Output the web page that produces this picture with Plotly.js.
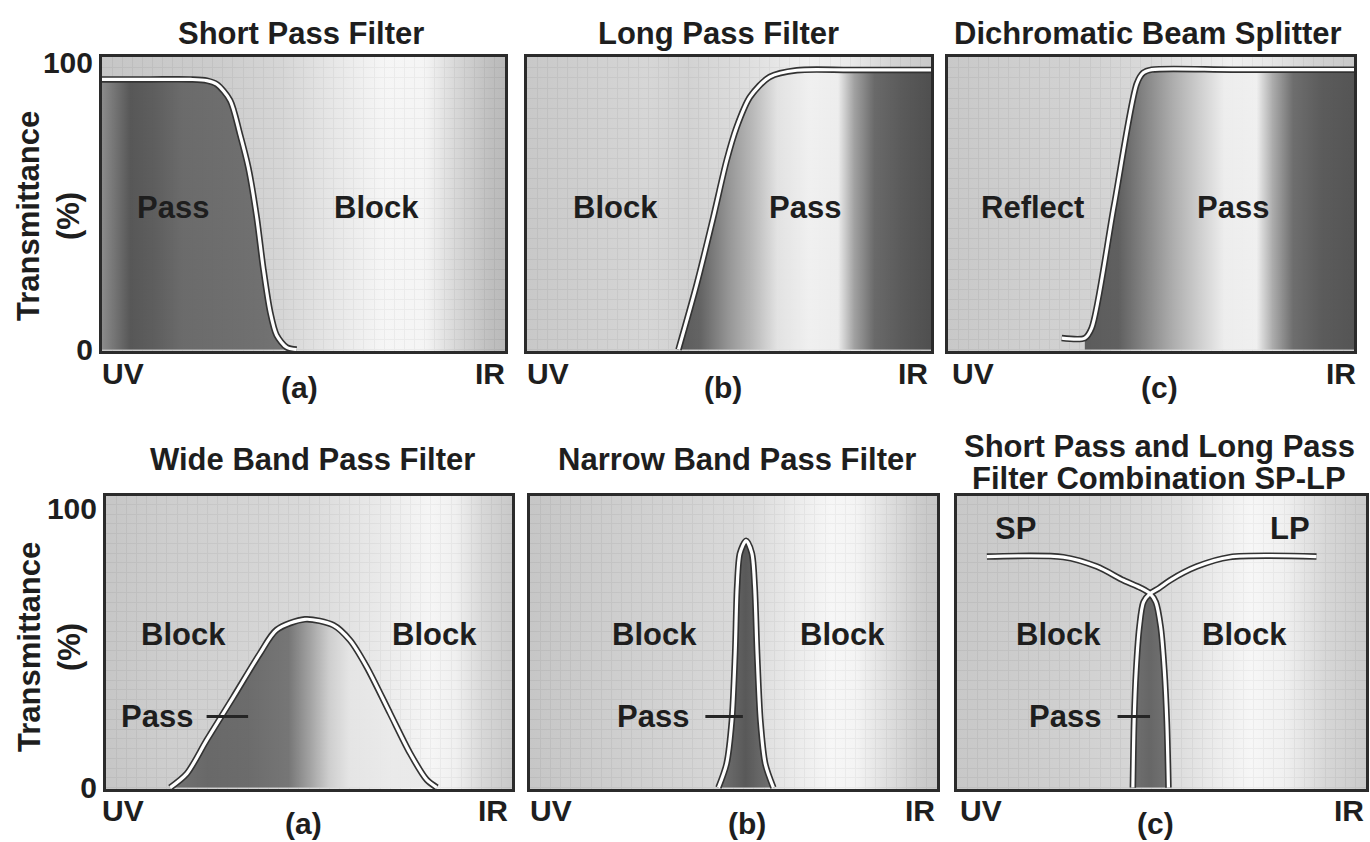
<!DOCTYPE html>
<html>
<head>
<meta charset="utf-8">
<script src="https://cdn.plot.ly/plotly-3.0.1.min.js"></script>
<style>
html,body{margin:0;padding:0;background:#ffffff;}
#chart{width:1370px;height:842px;}
</style>
</head>
<body>
<div id="chart"></div>
<script>
// ================= DATA =================
const panelTitles = [
  'Short Pass Filter', 'Long Pass Filter', 'Dichromatic Beam Splitter',
  'Wide Band Pass Filter', 'Narrow Band Pass Filter',
  'Short Pass and Long Pass<br>Filter Combination SP-LP'
];
const panelLetters = ['(a)', '(b)', '(c)', '(a)', '(b)', '(c)'];
const xStartLabel = 'UV';
const xEndLabel = 'IR';
const yTitleText = 'Transmittance<br>(%)';
const yTickVals = [0, 100];
const yTickText = ['0', '100'];

// transmittance curves (x: 0 = UV ... 100 = IR, y: % transmittance)
const shortPassX = [0, 12, 22, 26, 28.5, 31.8, 34.2, 36.3, 38.4, 40.0, 41.7, 43.3, 45.8, 48.3];
const shortPassY = [94, 94, 94, 93.6, 92.3, 86.7, 75.1, 63.4, 45.9, 28.4, 13.3, 5.1, 0.8, 0];

const longPassX = [37.5, 42.0, 46.1, 49.4, 51.9, 55.2, 60.1, 66.8, 80, 100];
const longPassY = [0, 22.6, 45.9, 65.7, 77.4, 87.9, 94.9, 97.2, 97.3, 97.3];

const dichroicX = [28.0, 33.7, 35.4, 40.9, 46.5, 48.1, 50.2, 70, 100];
const dichroicY = [4.0, 4.0, 7.5, 50, 92.5, 96.3, 97.4, 97.4, 97.4];

const wideBandX = [15.8, 19.9, 24.8, 31.4, 37.9, 42.0, 49.0, 56.0, 60.1, 64.2, 70.0, 74.9, 79.0, 81.5];
const wideBandY = [0, 5, 17, 32.5, 48, 56.5, 60.3, 58.2, 52.8, 43.3, 26.5, 12.3, 2.8, 0];

const narrowBandX = [46.3, 48.3, 49.6, 50.4, 50.9, 51.6, 53.1, 54.5, 55.2, 55.8, 56.6, 57.8, 59.8];
const narrowBandY = [0, 8.5, 24, 48, 72, 84, 88.5, 84, 72, 48, 24, 8.5, 0];

const comboSpX = [7.3, 26, 34.2, 40.7, 45.0, 47.2, 48.6, 49.8, 50.7, 51.3, 51.7];
const comboSpY = [82.8, 82.6, 79.2, 74.3, 71.5, 69.5, 66.5, 57.5, 41.8, 23.6, 0];
const comboLpX = [87.9, 66.7, 58.6, 52.1, 49.4, 47.2, 45.6, 44.6, 43.8, 43.3, 43.0];
const comboLpY = [82.8, 82.6, 79.2, 74.3, 71.5, 69.5, 66.5, 57.5, 41.8, 23.6, 0];
const comboCrossIndex = 5;

// region labels (text) per panel
const regionText = [
  ['Pass', 'Block'],
  ['Block', 'Pass'],
  ['Reflect', 'Pass'],
  ['Block', 'Block'],
  ['Block', 'Block'],
  ['Block', 'Block', 'SP', 'LP']
];
const passLeaderText = 'Pass';

// ================= STYLE / LAYOUT CONFIG =================
const W = 1370, H = 842;
const FONT = 'Liberation Sans, Arial, Helvetica, sans-serif';
const TXT = '#1e1e1e';
const FRAME = '#2b2b2b';
const GRID = '#6e6e6e';
const A = 0.93;

// panel boxes in px: [left, right, top, bottom]
const panelBox = [
  [102, 505, 57, 351], [527, 931, 57, 351], [948, 1354, 57, 351],
  [106, 512, 496, 789], [530, 937, 496, 789], [957, 1366, 496, 789]
];
const yRanges = [[-0.5, 101.8], [-0.5, 101.8], [-0.5, 101.8], [-0.5, 104.5], [-0.5, 104.5], [-0.5, 104.5]];

// gray gradient stops [fraction, displayed gray]
const lightStops = [
  [[0,198],[0.3,205],[0.45,214],[0.58,232],[0.7,246],[0.8,245],[0.88,215],[0.96,192],[1,185]],
  [[0,200],[0.15,208],[0.3,214],[0.4,210],[0.55,222],[0.7,240],[0.8,235],[0.9,212],[1,200]],
  [[0,200],[0.2,208],[0.35,210],[0.5,218],[0.7,240],[0.8,230],[0.9,210],[1,200]],
  [[0,198],[0.15,206],[0.3,210],[0.5,218],[0.65,232],[0.8,246],[0.86,240],[0.93,215],[1,200]],
  [[0,198],[0.2,206],[0.4,212],[0.55,220],[0.65,235],[0.74,247],[0.8,244],[0.88,222],[0.95,205],[1,198]],
  [[0,200],[0.2,206],[0.4,212],[0.55,222],[0.65,238],[0.72,247],[0.8,240],[0.9,215],[1,202]]
];
const darkStops = [
  [[0,140],[0.025,122],[0.07,88],[0.13,95],[0.2,108],[0.4,112],[0.5,118],[1,118]],
  [[0,90],[0.37,90],[0.43,100],[0.5,150],[0.56,185],[0.62,225],[0.7,238],[0.77,235],[0.81,160],[0.86,105],[0.93,90],[1,80]],
  [[0,92],[0.33,92],[0.42,96],[0.48,130],[0.55,170],[0.62,205],[0.68,235],[0.76,238],[0.8,170],[0.85,110],[0.92,92],[1,85]],
  [[0,115],[0.15,115],[0.25,105],[0.35,108],[0.45,118],[0.5,160],[0.55,205],[0.6,228],[0.7,232],[0.8,230],[1,230]],
  [[0,120],[0.44,120],[0.5,100],[0.53,88],[0.56,100],[0.62,120],[1,120]],
  [[0,115],[0.42,115],[0.47,102],[0.52,115],[1,115]]
];

// label positions (data coords) per panel, parallel to regionText
const regionPos = [
  [[17.6, 49.6], [68.2, 49.6]],
  [[21.8, 49.6], [68.8, 49.6]],
  [[20.7, 49.6], [70.2, 49.6]],
  [[19, 54.7], [81, 54.7]],
  [[30.7, 54.7], [76.7, 54.7]],
  [[24.7, 54.7], [70.4, 54.7], [14.2, 93], [81.4, 93]]
];
// Pass leader: [panelIndex, tipX, y, ax(px), startstandoff]
const leaders = [[3, 35, 25.5, -91, 12], [4, 52.3, 25.5, -90, 15], [5, 47.2, 25.5, -85, 15]];

// title line centres in px (one entry per title line)
const titlePos = [[[301, 33]], [[718, 33]], [[1148, 33]], [[312, 459]], [[737, 459]], [[1159, 446], [1159, 478]]];
const letterPos = [[299, 387], [723, 387], [1159, 387], [303, 823], [747, 823], [1155, 823]];
const uvPos = [[100, 373], [525, 373], [950, 373], [100, 810], [528, 810], [958, 810]];
const irPos = [[507, 373], [930, 373], [1358, 373], [510, 810], [937, 810], [1366, 810]];
const yTitlePos = [[49, 216], [49, 647]];

// ================= HELPERS =================
const clamp = v => Math.max(0, Math.min(255, Math.round(v)));
function lightCol(T) { const c = clamp((T - (1 - A) * 255) / A); return `rgba(${c},${c},${c},${A})`; }
function darkCol(T) { const c = clamp((T - (1 - A) * 210) / A); return `rgba(${c},${c},${c},${A})`; }
function scale(stops, fn) { return stops.map(s => [s[0], fn(s[1])]); }
const px = p => p / W;
const py = p => 1 - p / H;
const sfx = i => (i === 0 ? '' : String(i + 1));

const curves = [
  {x: shortPassX, y: shortPassY},
  {x: longPassX, y: longPassY},
  {x: dichroicX, y: dichroicY},
  {x: wideBandX, y: wideBandY},
  {x: narrowBandX, y: narrowBandY}
];

const OUT_W = 6.5, CORE_W = 3.2, OUT_C = '#333333';

const traces = [];
const layout = {
  width: W, height: H,
  margin: {l: 0, r: 0, t: 0, b: 0},
  paper_bgcolor: '#ffffff', plot_bgcolor: '#ffffff',
  showlegend: false,
  annotations: [],
  font: {family: FONT, color: TXT}
};

for (let i = 0; i < 6; i++) {
  const s = sfx(i);
  const xa = 'x' + s, ya = 'y' + s;
  const [l, r, t, b] = panelBox[i];
  const yr = yRanges[i];
  layout['xaxis' + s] = {
    domain: [px(l), px(r)], range: [0, 100], anchor: ya,
    showline: true, mirror: true, linewidth: 3, linecolor: FRAME,
    tickmode: 'linear', tick0: 0, dtick: 2.5, showgrid: true, gridcolor: GRID, gridwidth: 1,
    showticklabels: false, ticks: '', zeroline: false, fixedrange: true
  };
  layout['yaxis' + s] = {
    domain: [py(b), py(t)], range: yr, anchor: xa,
    showline: true, mirror: true, linewidth: 3, linecolor: FRAME,
    tickmode: 'array', tickvals: yTickVals, ticktext: yTickText,
    showticklabels: i % 3 === 0, ticks: '', showgrid: false, zeroline: false, fixedrange: true,
    tickfont: {family: FONT, size: 30, color: TXT, weight: 'bold'},
    minor: {tickmode: 'linear', tick0: 0, dtick: 3.5, showgrid: true, gridcolor: GRID, gridwidth: 1, ticks: ''}
  };

  // light background gradient
  traces.push({
    x: [-1, 101, 101, -1], y: [yr[0] - 2, yr[0] - 2, yr[1] + 2, yr[1] + 2],
    xaxis: xa, yaxis: ya, mode: 'lines', line: {width: 0}, fill: 'toself',
    fillgradient: {type: 'horizontal', start: 0, stop: 100, colorscale: scale(lightStops[i], lightCol)},
    hoverinfo: 'skip'
  });

  const darkGrad = {type: 'horizontal', start: 0, stop: 100, colorscale: scale(darkStops[i], darkCol)};

  if (i < 5) {
    const c = curves[i];
    const fx = i === 2 ? c.x.slice(1) : c.x;
    const fy = i === 2 ? c.y.slice(1) : c.y;
    traces.push({
      x: fx, y: fy, xaxis: xa, yaxis: ya, mode: 'lines',
      line: {width: 0, shape: 'spline', smoothing: 0.8}, fill: 'tozeroy',
      fillgradient: darkGrad, hoverinfo: 'skip'
    });
    traces.push({x: c.x, y: c.y, xaxis: xa, yaxis: ya, mode: 'lines',
      line: {color: OUT_C, width: OUT_W, shape: 'spline', smoothing: 0.8}, hoverinfo: 'skip'});
    traces.push({x: c.x, y: c.y, xaxis: xa, yaxis: ya, mode: 'lines',
      line: {color: '#ffffff', width: CORE_W, shape: 'spline', smoothing: 0.8}, hoverinfo: 'skip'});
  } else {
    // pass region between the SP and LP curves below their crossing
    traces.push({
      x: comboSpX.slice(comboCrossIndex), y: comboSpY.slice(comboCrossIndex),
      xaxis: xa, yaxis: ya, mode: 'lines', line: {width: 0, shape: 'spline', smoothing: 0.8}, hoverinfo: 'skip'
    });
    traces.push({
      x: comboLpX.slice(comboCrossIndex), y: comboLpY.slice(comboCrossIndex),
      xaxis: xa, yaxis: ya, mode: 'lines', line: {width: 0, shape: 'spline', smoothing: 0.8},
      fill: 'tonextx', fillgradient: darkGrad, hoverinfo: 'skip'
    });
    [[comboSpX, comboSpY], [comboLpX, comboLpY]].forEach(([cx, cy]) => {
      traces.push({x: cx, y: cy, xaxis: xa, yaxis: ya, mode: 'lines',
        line: {color: OUT_C, width: OUT_W, shape: 'spline', smoothing: 0.8}, hoverinfo: 'skip'});
    });
    [[comboSpX, comboSpY], [comboLpX, comboLpY]].forEach(([cx, cy]) => {
      traces.push({x: cx, y: cy, xaxis: xa, yaxis: ya, mode: 'lines',
        line: {color: '#ffffff', width: CORE_W, shape: 'spline', smoothing: 0.8}, hoverinfo: 'skip'});
    });
  }

  // titles (one annotation per title line)
  panelTitles[i].split('<br>').forEach((line, k) => {
    const p = titlePos[i][k];
    layout.annotations.push({
      text: line, xref: 'paper', yref: 'paper', x: px(p[0]), y: py(p[1]),
      xanchor: 'center', yanchor: 'middle', showarrow: false,
      font: {family: FONT, size: 31, color: TXT, weight: 'bold'}
    });
  });
  // axis end labels + letter
  layout.annotations.push({
    text: xStartLabel, xref: 'paper', yref: 'paper', x: px(uvPos[i][0]), y: py(uvPos[i][1]),
    xanchor: 'left', yanchor: 'middle', showarrow: false,
    font: {family: FONT, size: 30, color: TXT, weight: 'bold'}
  });
  layout.annotations.push({
    text: xEndLabel, xref: 'paper', yref: 'paper', x: px(irPos[i][0]), y: py(irPos[i][1]),
    xanchor: 'right', yanchor: 'middle', showarrow: false,
    font: {family: FONT, size: 30, color: TXT, weight: 'bold'}
  });
  layout.annotations.push({
    text: panelLetters[i], xref: 'paper', yref: 'paper', x: px(letterPos[i][0]), y: py(letterPos[i][1]),
    xanchor: 'center', yanchor: 'middle', showarrow: false,
    font: {family: FONT, size: 30, color: TXT, weight: 'bold'}
  });
  // region labels
  regionText[i].forEach((txt, k) => {
    layout.annotations.push({
      text: txt, xref: xa, yref: ya, x: regionPos[i][k][0], y: regionPos[i][k][1],
      xanchor: 'center', yanchor: 'middle', showarrow: false,
      font: {family: FONT, size: 31, color: TXT, weight: 'bold'}
    });
  });
}

// Pass labels with leader lines
leaders.forEach(([pi, tipX, yv, ax, sso]) => {
  const s = sfx(pi);
  layout.annotations.push({
    text: passLeaderText, xref: 'x' + s, yref: 'y' + s, x: tipX, y: yv,
    ax: ax, ay: 0, showarrow: true, arrowhead: 0, arrowwidth: 3, arrowcolor: '#252525',
    standoff: 0, startstandoff: sso,
    font: {family: FONT, size: 31, color: TXT, weight: 'bold'}
  });
});

// y-axis titles
yTitlePos.forEach(p => {
  layout.annotations.push({
    text: yTitleText, xref: 'paper', yref: 'paper', x: px(p[0]), y: py(p[1]),
    xanchor: 'center', yanchor: 'middle', textangle: -90, showarrow: false,
    font: {family: FONT, size: 31, color: TXT, weight: 'bold'}
  });
});

Plotly.newPlot('chart', traces, layout, {staticPlot: true, displayModeBar: false});
</script>
</body>
</html>
